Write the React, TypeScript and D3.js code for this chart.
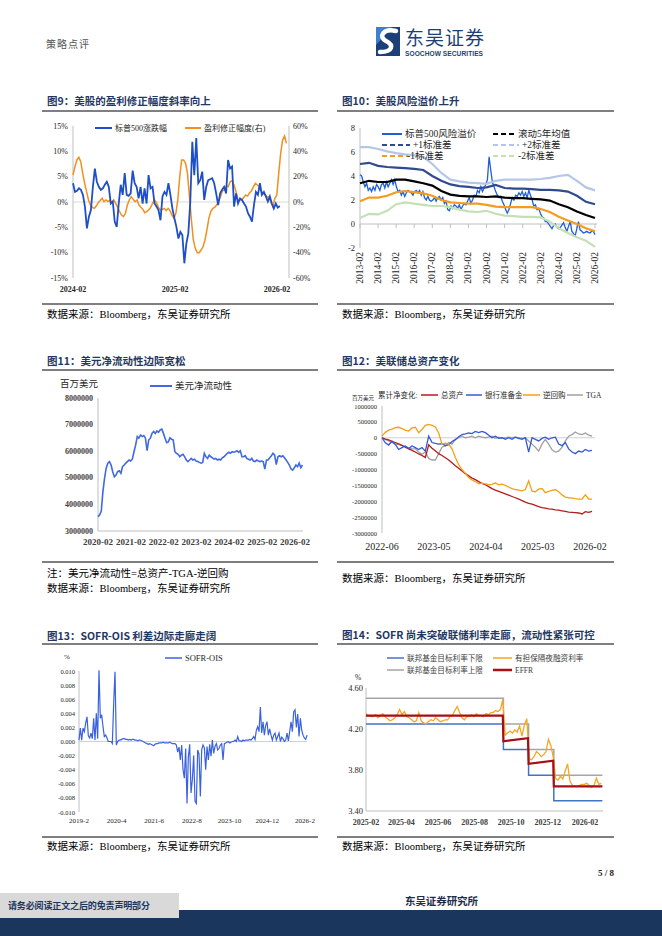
import React from "react";
import * as d3 from "d3";

type Pt = { d: Date; v: number };

// ---------- 图9：标普500涨跌幅(%) / 盈利修正幅度(右, %) ----------
const spxChange = [
  3.7, 2.0, 2.2, 2.7, 2.4, 1.4, -0.9, -5.2, -2.9, -1.6,
  3.0, 6.6, 4.0, 3.0, 2.4, 2.7, 3.4, 4.0, 3.0, -0.3,
  0.1, -3.9, -4.9, -0.3, 3.4, 1.4, 5.7, 1.4, 1.2, 1.7,
  6.2, 3.7, 3.0, 0.7, 3.0, -0.3, 2.7, -0.3, 5.3, 2.7,
  3.0, -0.3, -0.9, -1.6, -3.6, 1.1, 2.0, 1.4, 3.7, 1.4,
  -1.3, -3.2, -4.9, -7.2, -5.9, -6.5, -12.1, -8.2, -6.2, 0.1,
  11.9, 5.3, 12.6, 3.7, 4.3, 6.0, 0.4, 3.0, 4.3, 4.5,
  4.7, 3.7, 1.7, -0.6, 1.7, 2.4, 3.0, 1.7, 8.3, 6.6,
  7.0, -0.9, 1.7, -0.3, 0.7, 0.4, -0.3, -0.9, -2.2, -2.9,
  -3.9, -0.6, 2.0, 1.4, 3.7, 1.4, 2.0, 1.1, 0.1, 1.1,
  -0.3, -1.3, -0.3, -1.1, -0.8,
];
const epsRevision = [
  21.3, 27.9, 33.2, 35.3, 31.8, 22.6, 14.7, 8.2, 1.6, -2.4,
  -4.2, -5.0, -3.2, -0.5, 1.1, 2.9, 0.3, 1.6, 0.3, 1.6,
  -0.5, 1.6, -1.1, -4.2, -7.6, -10.3, -11.6, -8.9, -2.4, 1.6,
  4.2, 2.1, 0.3, 1.6, -2.4, -4.2, -5.8, -8.4, -7.6, -6.3,
  -4.2, -1.1, 1.6, -0.5, -4.2, -6.3, -5.8, -5.0, -6.8, -5.0,
  -6.8, -10.3, -12.9, -8.9, 1.6, 20.0, 33.2, 33.2, 30.5, 22.6,
  4.2, -14.2, -30.0, -36.6, -40.0, -40.0, -37.9, -35.3, -30.0, -22.1,
  -12.9, -7.6, -5.0, -4.2, -2.4, 0.3, 4.2, 8.9, 9.5, 12.6,
  12.1, 16.1, 16.8, 13.4, 8.2, 1.6, 1.6, 1.6, 3.7, 5.5,
  4.7, 7.4, 8.9, 12.1, 14.7, 13.4, 12.1, 8.2, 6.8, 5.5,
  3.7, 4.2, -0.5, -3.7, 2.9, 5.5, 22.6, 38.4, 48.9, 52.1,
  46.3,
];
const fig9Ticks = ["2024-02", "2025-02", "2026-02"];

// ---------- 图10：标普500风险溢价 ----------
const erp = [
  4.1, 4.0, 3.5, 3.1, 3.4, 2.8, 3.0, 2.7, 3.1, 2.8,
  3.3, 3.1, 2.8, 3.3, 3.4, 3.0, 3.5, 3.1, 3.4, 3.7,
  3.3, 3.7, 3.1, 2.7, 2.8, 2.4, 2.7, 2.3, 2.6, 2.8,
  2.7, 2.6, 2.4, 2.7, 2.8, 2.6, 2.8, 2.4, 2.7, 2.2,
  2.0, 2.3, 2.0, 1.9, 2.0, 2.2, 1.9, 2.2, 2.3, 2.0,
  2.2, 1.7, 1.9, 1.2, 1.1, 1.5, 1.3, 1.6, 1.5, 1.3,
  1.6, 1.2, 1.5, 1.7, 1.6, 1.9, 2.2, 1.7, 2.0, 2.4,
  2.3, 2.8, 2.6, 3.1, 2.7, 3.0, 3.3, 3.7, 5.6, 4.5,
  3.5, 3.1, 2.7, 2.4, 2.2, 2.3, 1.9, 1.6, 1.2, 0.9,
  1.2, 1.7, 2.2, 2.0, 2.4, 2.3, 2.6, 2.4, 2.7, 2.3,
  2.6, 2.2, 2.8, 2.4, 2.0, 1.5, 1.6, 1.2, 1.3, 0.9,
  0.6, 0.5, 0.2, 0.2, 0.0, -0.2, -0.4, -0.1, 0.0, -0.3,
  -0.4, -0.3, -0.1, 0.1, -0.3, -0.6, -0.2, 0.2, -0.6, -0.8,
  -1.0, -0.4, 0.2, -0.5, -0.6, -0.75, -0.7, -0.6, -0.7, -0.75,
  -0.6, -0.6, -0.9,
];
// 半年取点
const erpPlus2 = [6.4, 6.4, 6.25, 6.05, 5.9, 5.8, 5.72, 5.6, 5.0, 4.25, 3.7, 3.55, 3.45, 3.4, 3.35, 3.6, 3.7, 3.7, 3.7, 3.7, 3.75, 3.85, 4.0, 4.1, 3.6, 3.05, 2.8];
const erpPlus1 = [5.0, 5.1, 4.85, 4.75, 4.7, 4.65, 4.6, 4.5, 4.0, 3.6, 3.3, 3.15, 3.1, 3.0, 3.05, 3.25, 3.0, 2.95, 2.95, 2.9, 2.85, 2.85, 2.8, 2.7, 2.35, 1.85, 1.65];
const erpMean = [3.4, 3.6, 3.5, 3.5, 3.7, 3.7, 3.55, 3.4, 3.2, 2.75, 2.45, 2.35, 2.3, 2.3, 2.25, 2.3, 2.2, 2.15, 2.15, 2.1, 2.05, 1.95, 1.65, 1.4, 1.05, 0.75, 0.5];
const erpMinus1 = [1.9, 2.2, 2.2, 2.35, 2.65, 2.75, 2.65, 2.55, 2.35, 2.0, 1.8, 1.75, 1.7, 1.7, 1.6, 1.45, 1.4, 1.4, 1.4, 1.4, 1.25, 1.0, 0.6, 0.3, 0.0, -0.35, -0.6];
const erpMinus2 = [0.5, 0.85, 0.8, 1.1, 1.65, 1.8, 1.7, 1.6, 1.5, 1.5, 1.4, 1.2, 1.05, 1.0, 1.1, 0.85, 0.7, 0.65, 0.6, 0.6, 0.55, 0.2, -0.35, -0.75, -1.1, -1.4, -1.9];
const fig10Ticks = ["2013-02", "2014-02", "2015-02", "2016-02", "2017-02", "2018-02", "2019-02", "2020-02", "2021-02", "2022-02", "2023-02", "2024-02", "2025-02", "2026-02"];

// ---------- 图11：美元净流动性（百万美元） ----------
const netLiquidity = [
  3.54e6, 3.6e6, 3.75e6, 4.48e6, 4.98e6, 5.36e6, 5.55e6, 5.61e6, 5.48e6, 5.23e6,
  5.04e6, 5.1e6, 5.23e6, 5.26e6, 5.17e6, 5.42e6, 5.48e6, 5.55e6, 5.61e6, 5.67e6,
  5.63e6, 5.7e6, 5.98e6, 6.23e6, 6.55e6, 6.49e6, 6.61e6, 6.55e6, 6.59e6, 6.49e6,
  6.02e6, 6.42e6, 6.49e6, 6.67e6, 6.74e6, 6.67e6, 6.76e6, 6.71e6, 6.8e6, 6.83e6,
  6.67e6, 6.49e6, 6.32e6, 6.35e6, 6.5e6, 6.45e6, 6.42e6, 5.98e6, 5.92e6, 5.88e6,
  5.79e6, 5.85e6, 5.88e6, 5.79e6, 5.67e6, 5.61e6, 5.67e6, 5.73e6, 5.67e6, 5.7e6,
  5.63e6, 5.61e6, 5.58e6, 5.55e6, 5.58e6, 5.92e6, 5.79e6, 5.73e6, 5.85e6, 5.79e6,
  5.75e6, 5.7e6, 5.73e6, 5.67e6, 5.7e6, 5.67e6, 5.75e6, 5.79e6, 5.85e6, 5.92e6,
  5.96e6, 5.92e6, 5.98e6, 5.96e6, 5.98e6, 6.02e6, 5.96e6, 6.02e6, 5.79e6, 5.79e6,
  5.83e6, 5.73e6, 5.7e6, 5.67e6, 5.73e6, 5.63e6, 5.61e6, 5.67e6, 5.63e6, 5.61e6,
  5.63e6, 5.61e6, 5.33e6, 5.67e6, 5.67e6, 5.75e6, 5.83e6, 5.92e6, 5.85e6, 5.5e6,
  5.79e6, 5.83e6, 5.79e6, 5.83e6, 5.75e6, 5.67e6, 5.58e6, 5.48e6, 5.33e6, 5.29e6,
  5.38e6, 5.48e6, 5.42e6, 5.55e6, 5.38e6, 5.48e6,
];
const fig11Ticks = ["2020-02", "2021-02", "2022-02", "2023-02", "2024-02", "2025-02", "2026-02"];

// ---------- 图12：累计净变化（百万美元） ----------
const fedAssetsChg = [
  0, -0.04e6, -0.07e6, -0.11e6, -0.15e6, -0.19e6, -0.24e6, -0.3e6, -0.35e6, -0.4e6,
  -0.45e6, -0.51e6, -0.56e6, -0.62e6, -0.22e6, -0.33e6, -0.41e6, -0.5e6, -0.56e6, -0.63e6,
  -0.7e6, -0.79e6, -0.88e6, -0.96e6, -1.05e6, -1.13e6, -1.2e6, -1.27e6, -1.32e6, -1.38e6,
  -1.44e6, -1.48e6, -1.54e6, -1.6e6, -1.65e6, -1.69e6, -1.73e6, -1.77e6, -1.81e6, -1.85e6,
  -1.89e6, -1.93e6, -1.98e6, -2.03e6, -2.07e6, -2.09e6, -2.13e6, -2.17e6, -2.2e6, -2.22e6,
  -2.24e6, -2.25e6, -2.27e6, -2.28e6, -2.3e6, -2.32e6, -2.34e6, -2.35e6, -2.36e6, -2.37e6,
  -2.4e6, -2.33e6, -2.35e6, -2.32e6,
];
const reservesChg = [
  0, -0.16e6, -0.23e6, -0.11e6, -0.21e6, -0.37e6, -0.31e6, -0.26e6, -0.34e6, -0.26e6,
  -0.31e6, -0.37e6, -0.31e6, -0.42e6, 0.05e6, -0.15e6, -0.18e6, -0.2e6, -0.19e6, -0.25e6,
  -0.22e6, -0.12e6, -0.06e6, 0.03e6, 0.1e6, 0.12e6, 0.15e6, 0.13e6, 0.2e6, 0.16e6,
  0.2e6, 0.16e6, 0.08e6, 0, 0.05e6, -0.02e6, 0, -0.05e6, 0, -0.05e6,
  0.02e6, -0.02e6, -0.05e6, 0, -0.45e6, 0, -0.05e6, -0.1e6, -0.02e6, 0.02e6,
  -0.05e6, 0, 0.02e6, -0.2e6, -0.25e6, -0.15e6, -0.35e6, -0.45e6, -0.5e6, -0.42e6,
  -0.45e6, -0.37e6, -0.42e6, -0.4e6,
];
const rrpChg = [
  0.05e6, 0.17e6, 0.24e6, 0.27e6, 0.32e6, 0.33e6, 0.29e6, 0.24e6, 0.21e6, 0.31e6,
  0.33e6, 0.16e6, 0.26e6, 0.39e6, 0.42e6, 0.39e6, 0.34e6, 0.15e6, -0.2e6, -0.17e6,
  -0.2e6, -0.35e6, -0.62e6, -0.85e6, -1.0e6, -1.12e6, -1.25e6, -1.33e6, -1.38e6, -1.45e6,
  -1.43e6, -1.45e6, -1.48e6, -1.47e6, -1.42e6, -1.48e6, -1.46e6, -1.5e6, -1.55e6, -1.6e6,
  -1.63e6, -1.65e6, -1.67e6, -1.63e6, -1.36e6, -1.68e6, -1.7e6, -1.62e6, -1.6e6, -1.73e6,
  -1.69e6, -1.66e6, -1.63e6, -1.7e6, -1.8e6, -1.87e6, -1.89e6, -1.9e6, -1.92e6, -1.93e6,
  -1.93e6, -1.8e6, -1.93e6, -1.93e6,
];
const tgaChg = [
  0, -0.05e6, -0.1e6, -0.15e6, -0.2e6, -0.22e6, -0.25e6, -0.28e6, -0.32e6, -0.34e6,
  -0.35e6, -0.45e6, -0.52e6, -0.45e6, -0.65e6, -0.7e6, -0.7e6, -0.5e6, -0.3e6, -0.25e6,
  -0.15e6, -0.2e6, -0.05e6, 0, 0.05e6, 0, 0.02e6, 0.05e6, 0, 0.05e6,
  0.02e6, 0, 0.02e6, 0.05e6, -0.02e6, 0.02e6, -0.02e6, 0, 0.02e6, 0,
  0.02e6, 0, -0.02e6, 0, -0.1e6, -0.2e6, -0.3e6, -0.42e6, -0.2e6, -0.05e6,
  -0.2e6, -0.38e6, -0.45e6, -0.42e6, -0.3e6, -0.1e6, 0.05e6, 0.1e6, 0.18e6, 0.12e6,
  0.1e6, 0.15e6, 0.08e6, 0.05e6,
];
const fig12Ticks = ["2022-06", "2023-05", "2024-04", "2025-03", "2026-02"];

// ---------- 图13：SOFR-OIS (%) ----------
const sofrOis = [
  0.0002, 0.0019, 0.0002, 0.0019, 0.0014, 0.0026, 0.0035, 0.0008, 0.0005, 0.0012,
  0.0004, 0.0033, 0.0002, 0.004, 0.0004, 0.0101, 0.0033, 0.0038, 0.0021, 0.0007,
  0.0009, 0.0005, 0.0, 0.0, 0.0, -0.0003, 0.0054, 0.0099, -0.0005, 0.0,
  0.0002, 0.0002, 0.0003, 0.0004, 0.0004, 0.0003, 0.0003, 0.0002, 0.0003, 0.0002,
  0.0003, 0.0003, 0.0002, 0.0002, 0.0001, 0.0002, 0.0002, 0.0001, 0.0, -0.0001,
  -0.0002, -0.0003, -0.0004, -0.0003, -0.0004, -0.0005, -0.0006, -0.0004, -0.0003, -0.0003,
  -0.0002, -0.0002, -0.0002, -0.0001, -0.0002, -0.0002, -0.0002, -0.0002, -0.0001, -0.0002,
  -0.0003, -0.0003, -0.0003, -0.0005, -0.0015, -0.0008, -0.0026, -0.0005, -0.004, -0.0052,
  -0.001, -0.0088, -0.0022, -0.0004, -0.0073, -0.0054, -0.002, -0.0085, -0.0088, -0.0012,
  -0.0018, -0.0078, -0.0012, -0.0005, -0.0009, -0.004, -0.0007, -0.0026, -0.0004, -0.0021,
  0.0002, -0.0017, -0.0007, -0.0003, -0.0012, -0.001, -0.0005, -0.0003, -0.0026, -0.0003,
  -0.0002, -0.0001, 0.0, -0.0002, -0.0001, 0.0, 0.0, 0.0002, 0.0, 0.0007,
  0.0001, 0.0001, 0.0, 0.0002, 0.0001, 0.0002, 0.0002, 0.0002, 0.0003, 0.0002,
  0.0004, 0.0007, 0.0003, 0.0016, 0.0021, 0.0014, 0.0049, 0.0012, 0.0028, 0.0009,
  0.0023, 0.0028, 0.0009, 0.0018, 0.0009, 0.0002, 0.0009, 0.0012, 0.0002, 0.0007,
  0.0012, 0.0, 0.0006, 0.0004, 0.0, 0.0002, 0.0012, 0.0001, 0.0014, 0.0028,
  0.0014, 0.0042, 0.0045, 0.002, 0.0039, 0.0007, 0.0033, 0.0016, 0.0009, 0.0005,
  0.0003, 0.0009,
];
const fig13Ticks = ["2019-2", "2020-4", "2021-6", "2022-8", "2023-10", "2024-12", "2026-2"];

// ---------- 图14：SOFR 与利率走廊 (%) ----------
const sofr = [
  4.35, 4.33, 4.32, 4.32, 4.34, 4.31, 4.33, 4.35, 4.32, 4.3,
  4.28, 4.29, 4.31, 4.34, 4.39, 4.34, 4.37, 4.32, 4.31, 4.29,
  4.27, 4.28, 4.36, 4.28, 4.26, 4.25, 4.27, 4.29, 4.28, 4.31,
  4.29, 4.27, 4.28, 4.29, 4.29, 4.32, 4.33, 4.38, 4.42, 4.36,
  4.31, 4.29, 4.32, 4.32, 4.34, 4.32, 4.35, 4.33, 4.33, 4.32,
  4.35, 4.34, 4.36, 4.36, 4.38, 4.37, 4.39, 4.49, 4.14, 4.16,
  4.18, 4.16, 4.19, 4.17, 4.23, 4.13, 4.24, 4.3, 3.91, 3.9,
  3.93, 3.98, 3.96, 3.93, 3.95, 3.98, 4.1, 4.04, 3.93, 3.72,
  3.7, 3.74, 3.71, 3.79, 3.86, 3.69, 3.65, 3.64, 3.64, 3.65,
  3.66, 3.66, 3.67, 3.65, 3.63, 3.65, 3.72, 3.66, 3.67,
];
const effrDates = ["2025-02-01", "2025-09-17", "2025-09-18", "2025-10-29", "2025-10-30", "2025-12-10", "2025-12-11", "2026-03-02"];
const effrValues = [4.33, 4.33, 4.08, 4.11, 3.86, 3.89, 3.64, 3.64];
const rateDates = ["2025-02-01", "2025-09-18", "2025-10-30", "2025-12-11", "2026-03-02"];
const rateLower = [4.25, 4.0, 3.75, 3.5, 3.5];
const rateUpper = [4.5, 4.25, 4.0, 3.75, 3.75];
const fig14Ticks = ["2025-02", "2025-04", "2025-06", "2025-08", "2025-10", "2025-12", "2026-02"];

// ---------- helpers ----------
const SERIF = "'Liberation Serif', 'Times New Roman', 'Noto Sans CJK SC', serif";
const CJK = "'Noto Sans CJK SC', 'Liberation Serif', sans-serif";
const NAVY = "#1f3864";
const AXIS = "#bfbfbf";
const TXT = "#262626";

const ymd = (s: string) => {
  const [y, m, d] = s.split("-").map(Number);
  return new Date(y, m - 1, d || 1);
};
const spread = (vals: number[], start: string, end: string): Pt[] => {
  const a = +ymd(start), b = +ymd(end);
  return vals.map((v, i) => ({ d: new Date(a + ((b - a) * i) / (vals.length - 1)), v }));
};
const pathOf = (pts: Pt[], x: any, y: any, curve: any = d3.curveLinear) =>
  d3.line<Pt>().x((p) => x(p.d)).y((p) => y(p.v)).curve(curve)(pts) || "";

const Title = ({ x, y, ly, x1, x2, text }: any) => (
  <g>
    <text x={x} y={y} fontFamily={CJK} fontWeight={700} fontSize={10.5} fill={NAVY} dominantBaseline="central">
      {text}
    </text>
    <line x1={x1} x2={x2} y1={ly} y2={ly} stroke="#000" strokeWidth={1.2} />
  </g>
);

const Source = ({ x, y, ly, x1, x2 }: any) => (
  <g>
    <line x1={x1} x2={x2} y1={ly} y2={ly} stroke="#000" strokeWidth={1.2} />
    <text x={x} y={y} fontSize={10.5} fill="#000" dominantBaseline="central" fontFamily={SERIF}>
      数据来源：Bloomberg，东吴证券研究所
    </text>
  </g>
);

const LegendItem = ({ x, y, len, color, label, dash, width = 2, size = 8, gap = 3, fill = TXT }: any) => (
  <g>
    <line x1={x} x2={x + len} y1={y} y2={y} stroke={color} strokeWidth={width} strokeDasharray={dash} />
    <text x={x + len + gap} y={y} fontSize={size} fill={fill} dominantBaseline="central">
      {label}
    </text>
  </g>
);

// ---------- 图9 ----------
function Fig9() {
  const x = d3.scaleTime().domain([ymd("2024-02-01"), ymd("2026-02-01")]).range([73, 277]);
  const yl = d3.scaleLinear().domain([-15, 15]).range([278, 126]);
  const yr = d3.scaleLinear().domain([-60, 60]).range([278, 126]);
  const blue = spread(spxChange, "2024-02-01", "2026-02-11");
  const orange = spread(epsRevision, "2024-02-01", "2026-03-07");
  return (
    <g>
      <Title x={47} y={100} ly={111} x1={42} x2={318} text="图9：美股的盈利修正幅度斜率向上" />
      <line x1={73} x2={289} y1={yl(0)} y2={yl(0)} stroke="#d9d9d9" />
      <line x1={73} x2={73} y1={126} y2={278} stroke={AXIS} />
      <line x1={289} x2={289} y1={126} y2={278} stroke={AXIS} />
      {yl.ticks(6).map((t) => (
        <text key={t} x={68} y={yl(t)} textAnchor="end" fontSize={8} fill={TXT} dominantBaseline="central">
          {t}%
        </text>
      ))}
      {yr.ticks(6).map((t) => (
        <text key={t} x={293} y={yr(t)} fontSize={8} fill={TXT} dominantBaseline="central">
          {t}%
        </text>
      ))}
      {fig9Ticks.map((t) => (
        <text key={t} x={x(ymd(t))} y={289} textAnchor="middle" fontSize={8} fontWeight={700} fill={TXT} dominantBaseline="central">
          {t}
        </text>
      ))}
      <path d={pathOf(orange, x, yr)} fill="none" stroke="#f0901e" strokeWidth={1.5} />
      <path d={pathOf(blue, x, yl)} fill="none" stroke="#1f4fc8" strokeWidth={1.8} />
      <LegendItem x={95} y={128} len={17} color="#1f4fc8" label="标普500涨跌幅" size={8} />
      <LegendItem x={185} y={128} len={16} color="#f0901e" label="盈利修正幅度(右)" size={8} />
      <Source x={47} y={314} ly={304} x1={42} x2={318} />
    </g>
  );
}

// ---------- 图10 ----------
function Fig10() {
  const x = d3.scaleTime().domain([ymd("2013-02-01"), ymd("2026-02-01")]).range([360, 595]);
  const y = d3.scaleLinear().domain([-2, 8]).range([248, 128]);
  const half = (v: number[]) => spread(v, "2013-02-01", "2026-02-01");
  const bands = [
    { v: erpPlus2, c: "#b4c7e7" },
    { v: erpPlus1, c: "#2f4a8e" },
    { v: erpMinus2, c: "#c5e0b4" },
    { v: erpMinus1, c: "#f59b1e" },
    { v: erpMean, c: "#000000" },
  ];
  return (
    <g>
      <Title x={342} y={100} ly={111} x1={337} x2={614} text="图10：美股风险溢价上升" />
      <line x1={360} x2={360} y1={128} y2={248} stroke={AXIS} />
      <line x1={360} x2={597} y1={y(0)} y2={y(0)} stroke={AXIS} />
      {fig10Ticks.map((t) => (
        <line key={t} x1={x(ymd(t))} x2={x(ymd(t))} y1={y(0)} y2={y(0) + 4} stroke={AXIS} />
      ))}
      {y.ticks(5).map((t) => (
        <text key={t} x={355} y={y(t)} textAnchor="end" fontSize={8.5} fill={TXT} dominantBaseline="central">
          {t}
        </text>
      ))}
      {fig10Ticks.map((t) => (
        <text key={t} transform={`translate(${x(ymd(t))},252) rotate(-90)`} textAnchor="end" fontSize={9.5} fill={TXT} dominantBaseline="central">
          {t}
        </text>
      ))}
      <path d={pathOf(spread(erp, "2013-02-01", "2026-02-01"), x, y)} fill="none" stroke="#1f5fd8" strokeWidth={1.3} />
      {bands.map((b, i) => (
        <path key={i} d={pathOf(half(b.v), x, y)} fill="none" stroke={b.c} strokeWidth={2.2} />
      ))}
      <LegendItem x={382} y={134} len={20} color="#1f5fd8" label="标普500风险溢价" size={9.5} />
      <LegendItem x={382} y={145} len={28} color="#2f4a8e" label="+1标准差" size={9.5} dash="5,3" gap={3} />
      <LegendItem x={382} y={156} len={26} color="#f59b1e" label="-1标准差" size={9.5} dash="5,3" gap={-1} />
      <LegendItem x={493} y={134} len={22} color="#000" label="滚动5年均值" size={9.5} dash="5,3" />
      <LegendItem x={493} y={145} len={26} color="#b4c7e7" label="+2标准差" size={9.5} dash="5,3" />
      <LegendItem x={493} y={156} len={22} color="#c5e0b4" label="-2标准差" size={9.5} dash="5,3" />
      <Source x={342} y={314} ly={304} x1={337} x2={614} />
    </g>
  );
}

// ---------- 图11 ----------
function Fig11() {
  const x = d3.scaleTime().domain([ymd("2020-02-01"), ymd("2026-02-01")]).range([98, 295]);
  const y = d3.scaleLinear().domain([3e6, 8e6]).range([531, 398]);
  const pts = spread(netLiquidity, "2020-02-01", "2026-04-25");
  return (
    <g>
      <Title x={47} y={360} ly={370} x1={42} x2={318} text="图11：美元净流动性边际宽松" />
      <text x={60} y={384} fontSize={9.5} fill={TXT} dominantBaseline="central">百万美元</text>
      <line x1={98} x2={98} y1={398} y2={531} stroke={AXIS} />
      <line x1={98} x2={303} y1={531} y2={531} stroke={AXIS} />
      {y.ticks(5).map((t) => (
        <text key={t} x={93} y={y(t)} textAnchor="end" fontSize={8} fontWeight={700} fill="#404040" dominantBaseline="central">
          {t}
        </text>
      ))}
      {fig11Ticks.map((t) => (
        <text key={t} x={x(ymd(t))} y={542} textAnchor="middle" fontSize={9} fontWeight={700} fill="#404040" dominantBaseline="central">
          {t}
        </text>
      ))}
      <path d={pathOf(pts, x, y)} fill="none" stroke="#4169e1" strokeWidth={1.6} />
      <LegendItem x={150} y={386} len={22} color="#4169e1" label="美元净流动性" size={9.5} />
      <line x1={42} x2={318} y1={562} y2={562} stroke="#000" strokeWidth={1.2} />
      <text x={47} y={573} fontSize={10.5} fill="#000" dominantBaseline="central">注：美元净流动性=总资产-TGA-逆回购</text>
      <text x={47} y={588} fontSize={10.5} fill="#000" dominantBaseline="central">数据来源：Bloomberg，东吴证券研究所</text>
    </g>
  );
}

// ---------- 图12 ----------
function Fig12() {
  const x = d3.scaleTime().domain([ymd("2022-06-01"), ymd("2026-02-01")]).range([382, 590]);
  const y = d3.scaleLinear().domain([-3e6, 1e6]).range([533, 406]);
  const s = (v: number[]) => spread(v, "2022-06-01", "2026-02-14");
  const series = [
    { v: tgaChg, c: "#a0a0a0" },
    { v: fedAssetsChg, c: "#b41c1c" },
    { v: reservesChg, c: "#3558d8" },
    { v: rrpChg, c: "#f5a01a" },
  ];
  return (
    <g>
      <Title x={342} y={360} ly={370} x1={337} x2={614} text="图12：美联储总资产变化" />
      <text x={352} y={398} fontSize={5.5} fill={TXT} dominantBaseline="central">百万美元</text>
      <line x1={382} x2={382} y1={406} y2={533} stroke={AXIS} />
      <line x1={382} x2={595} y1={y(0)} y2={y(0)} stroke="#d0d0d0" />
      {d3.range(-3e6, 1e6 + 1, 5e5).map((t) => (
        <text key={t} x={377} y={y(t)} textAnchor="end" fontSize={6.5} fill={TXT} dominantBaseline="central">
          {t}
        </text>
      ))}
      {fig12Ticks.map((t) => (
        <text key={t} x={x(ymd(t))} y={546} textAnchor="middle" fontSize={10} fill={TXT} dominantBaseline="central">
          {t}
        </text>
      ))}
      {series.map((sr, i) => (
        <path key={i} d={pathOf(s(sr.v), x, y)} fill="none" stroke={sr.c} strokeWidth={1.3} />
      ))}
      <text x={378} y={395} fontSize={7.5} fill={TXT} dominantBaseline="central">累计净变化:</text>
      <LegendItem x={421} y={395} len={17} color="#b41c1c" label="总资产" size={7.5} width={1.5} />
      <LegendItem x={466} y={395} len={16} color="#3558d8" label="银行准备金" size={7.5} width={1.5} />
      <LegendItem x={523} y={395} len={17} color="#f5a01a" label="逆回购" size={7.5} width={1.5} />
      <LegendItem x={567} y={395} len={16} color="#a0a0a0" label="TGA" size={7.5} width={1.5} />
      <Source x={342} y={578} ly={562} x1={337} x2={614} />
    </g>
  );
}

// ---------- 图13 ----------
function Fig13() {
  const x = d3.scaleTime().domain([ymd("2019-02-01"), ymd("2026-02-01")]).range([79, 305]);
  const y = d3.scaleLinear().domain([-0.01, 0.01]).range([812, 671]);
  const pts = spread(sofrOis, "2019-02-01", "2026-02-24");
  const fmt = d3.format(".3f");
  return (
    <g>
      <Title x={47} y={635} ly={644} x1={42} x2={318} text="图13：SOFR-OIS 利差边际走廊走阔" />
      <text x={64} y={657} fontSize={7} fill={TXT} dominantBaseline="central">%</text>
      <line x1={79} x2={79} y1={671} y2={812} stroke={AXIS} />
      <line x1={79} x2={307} y1={y(0)} y2={y(0)} stroke="#d0d0d0" />
      {d3.range(-0.01, 0.0101, 0.002).map((t) => (
        <text key={t} x={75} y={y(t)} textAnchor="end" fontSize={6.5} fill={TXT} dominantBaseline="central">
          {fmt(Math.abs(t) < 1e-9 ? 0 : t).replace("−", "-")}
        </text>
      ))}
      {fig13Ticks.map((t) => (
        <text key={t} x={x(ymd(t))} y={821} textAnchor="middle" fontSize={7} fill={TXT} dominantBaseline="central">
          {t}
        </text>
      ))}
      <path d={pathOf(pts, x, y)} fill="none" stroke="#3a62e0" strokeWidth={1.2} />
      <LegendItem x={165} y={658} len={17} color="#3a62e0" label="SOFR-OIS" size={8.5} width={1.5} />
      <Source x={47} y={846} ly={837} x1={42} x2={318} />
    </g>
  );
}

// ---------- 图14 ----------
function Fig14() {
  const x = d3.scaleTime().domain([ymd("2025-02-01"), ymd("2026-02-01")]).range([366, 585]);
  const y = d3.scaleLinear().domain([3.4, 4.6]).range([811, 688]);
  const step = (vals: number[]) => rateDates.map((d, i) => ({ d: ymd(d), v: vals[i] }));
  const t0 = +ymd("2025-02-01");
  const sofrPts = sofr.map((v, i) => ({ d: new Date(t0 + i * 4 * 864e5), v }));
  const effrPts = effrDates.map((d, i) => ({ d: ymd(d), v: effrValues[i] }));
  return (
    <g>
      <Title x={342} y={634} ly={644} x1={337} x2={614} text="图14：SOFR 尚未突破联储利率走廊，流动性紧张可控" />
      <text x={355} y={677} fontSize={7.5} fill={TXT} dominantBaseline="central">%</text>
      <line x1={366} x2={366} y1={688} y2={811} stroke={AXIS} />
      <line x1={366} x2={603} y1={811} y2={811} stroke={AXIS} />
      {[3.4, 3.8, 4.2, 4.6].map((t) => (
        <text key={t} x={363} y={y(t)} textAnchor="end" fontSize={8.5} fill={TXT} dominantBaseline="central">
          {t.toFixed(2)}
        </text>
      ))}
      {fig14Ticks.map((t) => (
        <text key={t} x={x(ymd(t))} y={822} textAnchor="middle" fontSize={8} fontWeight={700} fill="#404040" dominantBaseline="central">
          {t}
        </text>
      ))}
      <path d={pathOf(step(rateUpper), x, y, d3.curveStepAfter)} fill="none" stroke="#a5a5a5" strokeWidth={1.5} />
      <path d={pathOf(step(rateLower), x, y, d3.curveStepAfter)} fill="none" stroke="#4472c4" strokeWidth={1.5} />
      <path d={pathOf(sofrPts, x, y)} fill="none" stroke="#f5a623" strokeWidth={1.3} />
      <path d={pathOf(effrPts, x, y)} fill="none" stroke="#a50f15" strokeWidth={2.2} />
      <LegendItem x={387} y={658} len={17} color="#4472c4" label="联邦基金目标利率下限" size={7.6} width={1.5} fill="#404040" />
      <LegendItem x={493} y={658} len={19} color="#f5a623" label="有担保隔夜融资利率" size={7.6} width={1.5} fill="#404040" />
      <LegendItem x={387} y={670} len={17} color="#a5a5a5" label="联邦基金目标利率上限" size={7.6} width={1.5} fill="#404040" />
      <LegendItem x={493} y={670} len={19} color="#a50f15" label="EFFR" size={7.6} width={2.5} fill="#404040" />
      <Source x={342} y={846} ly={837} x1={337} x2={614} />
    </g>
  );
}

function Header() {
  return (
    <g>
      <text x={46} y={43} fontFamily={CJK} fontSize={10} fill="#555" dominantBaseline="central" letterSpacing={1}>
        策略点评
      </text>
      <rect x={376} y={27} width={24} height={29} fill="#1c3f78" />
      <path d="M376,27 L392,27 L376,45 Z" fill="#3d7fd0" />
      <path d="M396,31 C383,28 378,37 386,41 C394,45 393,52 380,52" fill="none" stroke="#fff" strokeWidth={4.5} strokeLinecap="round" />
      <text x={405} y={45} fontFamily={CJK} fontSize={19} fill="#1c3f78" textLength={79}>
        东吴证券
      </text>
      <text x={405} y={55.5} fontFamily="'Liberation Sans', sans-serif" fontWeight={700} fontSize={6.6} fill="#1c3f78" textLength={78}>
        SOOCHOW SECURITIES
      </text>
    </g>
  );
}

function Footer() {
  return (
    <g>
      <text x={614} y={873} textAnchor="end" fontSize={9} fontWeight={700} fill="#1c1c1c" dominantBaseline="central">
        5 / 8
      </text>
      <rect x={0} y={910} width={662} height={26} fill="#1b365d" />
      <rect x={0} y={893} width={179} height={25} fill="#d9d9d9" />
      <text x={405} y={900} fontFamily={CJK} fontSize={10.5} fontWeight={700} fill="#1c2e4a" dominantBaseline="central" textLength={73}>
        东吴证券研究所
      </text>
      <text x={8} y={905.5} fontFamily={CJK} fontSize={9} fontWeight={700} fill="#1b365d" dominantBaseline="central" textLength={142}>
        请务必阅读正文之后的免责声明部分
      </text>
    </g>
  );
}

export default function App() {
  return (
    <svg
      width={662}
      height={936}
      viewBox="0 0 662 936"
      fontFamily={SERIF}
      style={{ position: "absolute", left: 0, top: 0, display: "block", background: "#fff" }}
    >
      <rect width={662} height={936} fill="#fff" />
      <Header />
      <Fig9 />
      <Fig10 />
      <Fig11 />
      <Fig12 />
      <Fig13 />
      <Fig14 />
      <Footer />
    </svg>
  );
}
